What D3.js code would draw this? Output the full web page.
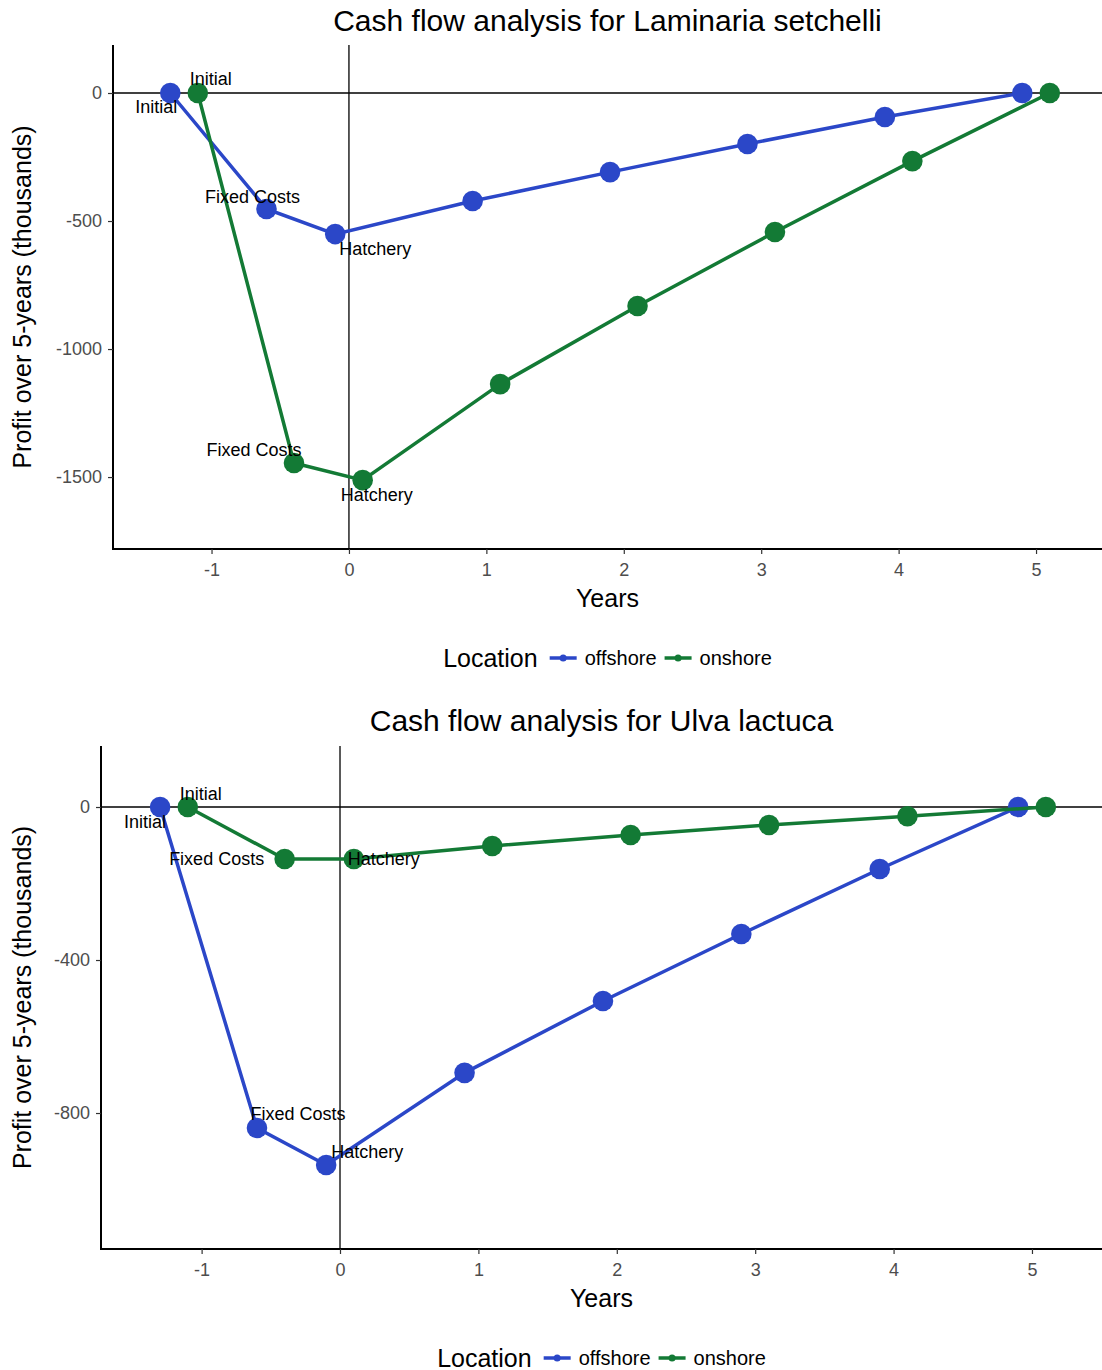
<!DOCTYPE html>
<html>
<head>
<meta charset="utf-8">
<script src="https://cdn.jsdelivr.net/npm/d3@7"></script>
<style>
  body { margin: 0; background: #fff; }
  svg { display: block; font-family: "Liberation Sans", Arial, Helvetica, sans-serif; }
</style>
</head>
<body>
<svg id="chart" width="1102" height="1370"></svg>
<script>
// data
var stageLabels = ["Initial", "Fixed Costs", "Hatchery"];
var offshoreX = [-1.3, -0.6, -0.1, 0.9, 1.9, 2.9, 3.9, 4.9];
var onshoreX = [-1.1, -0.4, 0.1, 1.1, 2.1, 3.1, 4.1, 5.1];
var xTicks = [-1, 0, 1, 2, 3, 4, 5];

var laminariaOffshore = [0, -453, -551, -422, -309, -199, -94, 0];
var laminariaOnshore = [0, -1445, -1512, -1137, -832, -543, -266, 0];
var laminariaTicks = [0, -500, -1000, -1500];

var ulvaOffshore = [0, -839, -936, -695, -507, -332, -162, 0];
var ulvaOnshore = [0, -136, -136, -102, -73, -47, -24, 0];
var ulvaTicks = [0, -400, -800];

var locations = ["offshore", "onshore"];
var colors = { offshore: "#2b47c8", onshore: "#137a35" };

var svg = d3.select("#chart");

// label nudges (px) per panel / location / stage
var nudges1 = {
  offshore: [[-14, 14], [-14, -12], [40, 15]],
  onshore: [[13, -14], [-40, -13], [14, 15]]
};
var nudges2 = {
  offshore: [[-15, 15], [41, -14], [41, -13]],
  onshore: [[13, -13], [-68, 0], [30, 0]]
};

drawPanel({
  title: "Cash flow analysis for Laminaria setchelli",
  top: 0, left: 113, right: 1102, plotTop: 45, plotBottom: 549,
  xDomain: [-1.717, 5.48], yDomain: [-1781, 187.5],
  yTicks: laminariaTicks,
  series: { offshore: laminariaOffshore, onshore: laminariaOnshore },
  nudges: nudges1
});

drawPanel({
  title: "Cash flow analysis for Ulva lactuca",
  top: 700, left: 101, right: 1102, plotTop: 46, plotBottom: 549,
  xDomain: [-1.727, 5.506], yDomain: [-1155.5, 159.5],
  yTicks: ulvaTicks,
  series: { offshore: ulvaOffshore, onshore: ulvaOnshore },
  nudges: nudges2
});

function drawPanel(p) {
  var g = svg.append("g").attr("transform", "translate(0," + p.top + ")");
  var x = d3.scaleLinear().domain(p.xDomain).range([p.left, p.right]);
  var y = d3.scaleLinear().domain(p.yDomain).range([p.plotBottom, p.plotTop]);
  var mid = (p.left + p.right) / 2;

  // title
  g.append("text")
    .attr("x", mid).attr("y", 31)
    .attr("text-anchor", "middle").attr("font-size", 30).attr("fill", "#000")
    .text(p.title);

  // reference lines at 0
  g.append("line")
    .attr("x1", p.left).attr("x2", p.right).attr("y1", y(0)).attr("y2", y(0))
    .attr("stroke", "#000").attr("stroke-width", 1.3);
  g.append("line")
    .attr("x1", x(0)).attr("x2", x(0)).attr("y1", p.plotTop).attr("y2", p.plotBottom)
    .attr("stroke", "#000").attr("stroke-width", 1.3);

  // axes
  var fmt = function (d) { return String(d); };
  var xAxis = g.append("g")
    .attr("transform", "translate(0," + p.plotBottom + ")")
    .call(d3.axisBottom(x).tickValues(xTicks).tickSize(5).tickPadding(9).tickFormat(fmt));
  var yAxis = g.append("g")
    .attr("transform", "translate(" + p.left + ",0)")
    .call(d3.axisLeft(y).tickValues(p.yTicks).tickSize(5).tickPadding(6).tickFormat(fmt));
  [xAxis, yAxis].forEach(function (a) {
    a.select(".domain").attr("stroke", "#000").attr("stroke-width", 2);
    a.selectAll(".tick line").attr("stroke", "#333").attr("stroke-width", 1.2);
    a.selectAll(".tick text").attr("fill", "#4d4d4d").attr("font-size", 18)
      .attr("font-family", "Liberation Sans, Arial, sans-serif");
  });
  // ggplot axis lines run to the panel edge
  xAxis.select(".domain").attr("d", "M" + (p.left - 1) + ",0H" + p.right);
  yAxis.select(".domain").attr("d", "M0," + p.plotTop + "V" + (p.plotBottom + 1));

  // axis titles
  g.append("text")
    .attr("x", mid).attr("y", 607)
    .attr("text-anchor", "middle").attr("font-size", 25).attr("fill", "#000")
    .text("Years");
  g.append("text")
    .attr("transform", "translate(31," + ((p.plotTop + p.plotBottom) / 2) + ") rotate(-90)")
    .attr("text-anchor", "middle").attr("font-size", 25).attr("fill", "#000")
    .text("Profit over 5-years (thousands)");

  var line = d3.line().x(function (d) { return x(d[0]); }).y(function (d) { return y(d[1]); });

  locations.forEach(function (loc) {
    var xs = loc === "offshore" ? offshoreX : onshoreX;
    var pts = d3.zip(xs, p.series[loc]);
    g.append("path").datum(pts)
      .attr("d", line).attr("fill", "none")
      .attr("stroke", colors[loc]).attr("stroke-width", 3.5);
    g.selectAll(null).data(pts).enter().append("circle")
      .attr("cx", function (d) { return x(d[0]); })
      .attr("cy", function (d) { return y(d[1]); })
      .attr("r", 10.3).attr("fill", colors[loc]);
  });

  locations.forEach(function (loc) {
    var xs = loc === "offshore" ? offshoreX : onshoreX;
    stageLabels.forEach(function (lab, i) {
      var n = p.nudges[loc][i];
      g.append("text")
        .attr("x", x(xs[i]) + n[0]).attr("y", y(p.series[loc][i]) + n[1])
        .attr("dy", "0.35em").attr("text-anchor", "middle")
        .attr("font-size", 18).attr("fill", "#000")
        .text(lab);
    });
  });

  // legend, centred under the plot area
  var lg = g.append("g");
  var lt = lg.append("text").attr("x", 0).attr("y", 0).attr("dy", "0.35em")
    .attr("font-size", 25).attr("fill", "#000").text("Location");
  var cx = lt.node().getComputedTextLength() + 12;
  locations.forEach(function (loc) {
    lg.append("line").attr("x1", cx).attr("x2", cx + 27).attr("y1", 0).attr("y2", 0)
      .attr("stroke", colors[loc]).attr("stroke-width", 3.5);
    lg.append("circle").attr("cx", cx + 13.5).attr("cy", 0).attr("r", 3.5).attr("fill", colors[loc]);
    var t = lg.append("text").attr("x", cx + 35).attr("y", 0).attr("dy", "0.35em")
      .attr("font-size", 20).attr("fill", "#000").text(loc);
    cx += 35 + t.node().getComputedTextLength() + 8;
  });
  var w = cx - 8;
  lg.attr("transform", "translate(" + (mid - w / 2) + ",658)");
}
</script>
</body>
</html>
